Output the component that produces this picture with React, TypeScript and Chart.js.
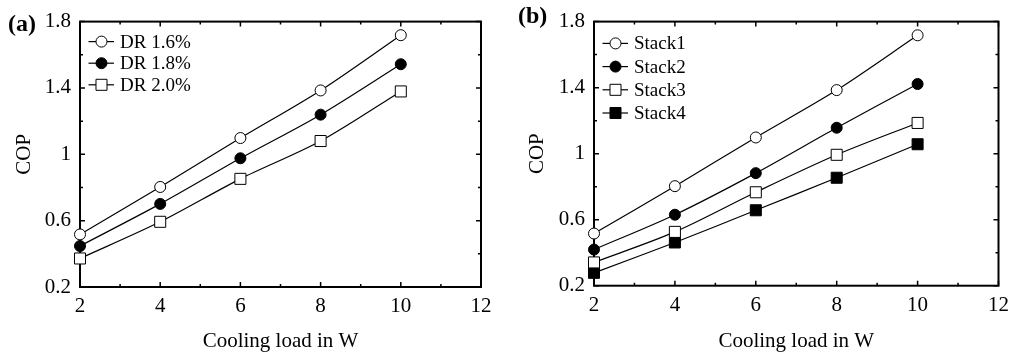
import React, { useEffect, useRef } from 'react';
import { Chart, registerables } from 'chart.js';

Chart.register(...registerables);

// ---- data ----
const xValues = [2, 4, 6, 8, 10];
const xTicks = [2, 4, 6, 8, 10, 12];
const xTickLabels = ['2', '4', '6', '8', '10', '12'];
const xMinorTicks = [3, 5, 7, 9, 11];
const yTicks = [0.2, 0.6, 1, 1.4, 1.8];
const yTickLabels = ['0.2', '0.6', '1', '1.4', '1.8'];
const yMinorTicks = [0.4, 0.8, 1.2, 1.6];

const dr16 = [0.517, 0.803, 1.098, 1.385, 1.718];
const dr18 = [0.447, 0.701, 0.976, 1.239, 1.543];
const dr20 = [0.372, 0.593, 0.852, 1.08, 1.379];

const stack1 = [0.516, 0.803, 1.098, 1.385, 1.717];
const stack2 = [0.419, 0.63, 0.882, 1.157, 1.422];
const stack3 = [0.341, 0.526, 0.766, 0.993, 1.186];
const stack4 = [0.278, 0.462, 0.657, 0.854, 1.057];

const labelsA = ['DR 1.6%', 'DR 1.8%', 'DR 2.0%'];
const labelsB = ['Stack1', 'Stack2', 'Stack3', 'Stack4'];

const xTitle = 'Cooling load in W';
const yTitle = 'COP';

type Marker = 'openCircle' | 'filledCircle' | 'openSquare' | 'filledSquare';
const markersA: Marker[] = ['openCircle', 'filledCircle', 'openSquare'];
const markersB: Marker[] = ['openCircle', 'filledCircle', 'openSquare', 'filledSquare'];

// ---- styling ----
const FONT = '"Liberation Serif", "Times New Roman", serif';
const CIRCLE_R = 5.5;
const SQUARE_R = 7.8; // Chart.js rect side = r * sqrt(2)

interface PanelSpec {
  tag: string;
  labels: string[];
  series: number[][];
  markers: Marker[];
  canvasLeft: number;
  width: number;
  plotLeft: number;
  rightPad: number;
  topPad: number;
  xAxisHeight: number;
  yTitlePad: number;
  legendFirst: number;
  legendGap: number;
  tagX: number;
  tagY: number;
}

const panelA: PanelSpec = {
  tag: '(a)',
  labels: labelsA,
  series: [dr16, dr18, dr20],
  markers: markersA,
  canvasLeft: 0,
  width: 500,
  plotLeft: 80,
  rightPad: 19,
  topPad: 21,
  xAxisHeight: 67,
  yTitlePad: 11.4,
  legendFirst: 20,
  legendGap: 21.6,
  tagX: 8,
  tagY: 25,
};

const panelB: PanelSpec = {
  tag: '(b)',
  labels: labelsB,
  series: [stack1, stack2, stack3, stack4],
  markers: markersB,
  canvasLeft: 508,
  width: 508,
  plotLeft: 86,
  rightPad: 11,
  topPad: 12.5,
  xAxisHeight: 68.3,
  yTitlePad: 16.4,
  legendFirst: 21.8,
  legendGap: 23.2,
  tagX: 10,
  tagY: 17,
};

function drawMarker(ctx: CanvasRenderingContext2D, m: Marker, x: number, y: number) {
  ctx.save();
  ctx.lineWidth = 1;
  ctx.strokeStyle = '#000';
  ctx.fillStyle = m === 'filledCircle' || m === 'filledSquare' ? '#000' : '#fff';
  ctx.beginPath();
  if (m === 'openCircle' || m === 'filledCircle') {
    ctx.arc(x, y, CIRCLE_R, 0, Math.PI * 2);
  } else {
    const s = SQUARE_R * Math.SQRT1_2;
    ctx.rect(x - s, y - s, 2 * s, 2 * s);
  }
  ctx.fill();
  ctx.stroke();
  ctx.restore();
}

function makeFramePlugin() {
  return {
    id: 'frameTicks',
    beforeDatasetsDraw(chart: any) {
      const { ctx, chartArea } = chart;
      const { left, right, top, bottom } = chartArea;
      const xs = chart.scales.x;
      const ys = chart.scales.y;
      ctx.save();
      ctx.strokeStyle = '#000';
      ctx.lineWidth = 1.5;
      const vTick = (px: number, len: number) => {
        ctx.beginPath();
        ctx.moveTo(px, bottom);
        ctx.lineTo(px, bottom - len);
        ctx.moveTo(px, top);
        ctx.lineTo(px, top + len);
        ctx.stroke();
      };
      const hTick = (py: number, len: number) => {
        ctx.beginPath();
        ctx.moveTo(left, py);
        ctx.lineTo(left + len, py);
        ctx.moveTo(right, py);
        ctx.lineTo(right - len, py);
        ctx.stroke();
      };
      xTicks.forEach((v) => vTick(xs.getPixelForValue(v), 5));
      xMinorTicks.forEach((v) => vTick(xs.getPixelForValue(v), 3));
      yTicks.forEach((v) => hTick(ys.getPixelForValue(v), 5));
      yMinorTicks.forEach((v) => hTick(ys.getPixelForValue(v), 3));
      ctx.lineWidth = 2;
      ctx.strokeRect(left, top, right - left, bottom - top);
      ctx.restore();
    },
  };
}

function makeLegendPlugin(spec: PanelSpec) {
  return {
    id: 'customLegend',
    afterDraw(chart: any) {
      const { ctx, chartArea } = chart;
      const { left, top } = chartArea;
      ctx.save();
      spec.labels.forEach((label, i) => {
        const y = top + spec.legendFirst + i * spec.legendGap;
        ctx.strokeStyle = '#000';
        ctx.lineWidth = 1.2;
        ctx.beginPath();
        ctx.moveTo(left + 8.5, y);
        ctx.lineTo(left + 34, y);
        ctx.stroke();
        drawMarker(ctx, spec.markers[i], left + 21.5, y);
        ctx.fillStyle = '#000';
        ctx.font = `19px ${FONT}`;
        ctx.textAlign = 'left';
        ctx.textBaseline = 'middle';
        ctx.fillText(label, left + 40, y + 1);
      });
      // panel tag
      ctx.fillStyle = '#000';
      ctx.font = `bold 24px ${FONT}`;
      ctx.textAlign = 'left';
      ctx.textBaseline = 'middle';
      ctx.fillText(spec.tag, spec.tagX, spec.tagY);
      ctx.restore();
    },
  };
}

function Panel({ spec }: { spec: PanelSpec }) {
  const ref = useRef<HTMLCanvasElement | null>(null);

  useEffect(() => {
    const canvas = ref.current;
    if (!canvas) return;
    const datasets = spec.series.map((vals, i) => {
      const m = spec.markers[i];
      const isCircle = m === 'openCircle' || m === 'filledCircle';
      const filled = m === 'filledCircle' || m === 'filledSquare';
      return {
        label: spec.labels[i],
        data: xValues.map((x, j) => ({ x, y: vals[j] })),
        borderColor: '#000',
        borderWidth: 1.2,
        tension: 0.3,
        fill: false,
        clip: false as const,
        pointStyle: isCircle ? 'circle' : 'rect',
        pointRadius: isCircle ? CIRCLE_R : SQUARE_R,
        pointBackgroundColor: filled ? '#000' : '#fff',
        pointBorderColor: '#000',
        pointBorderWidth: 1,
      };
    });

    const tickFont = { family: FONT, size: 21, lineHeight: 1.2 };

    const chart = new Chart(canvas, {
      type: 'line',
      data: { datasets: datasets as any },
      plugins: [makeFramePlugin(), makeLegendPlugin(spec)],
      options: {
        responsive: false,
        animation: false,
        layout: { padding: { left: 0, right: spec.rightPad, top: spec.topPad, bottom: 0 } },
        plugins: {
          legend: { display: false },
          tooltip: { enabled: false },
        },
        scales: {
          x: {
            type: 'linear',
            min: 2,
            max: 12,
            afterBuildTicks: (s: any) => {
              s.ticks = xTicks.map((v) => ({ value: v }));
            },
            afterFit: (s: any) => {
              s.height = spec.xAxisHeight;
            },
            grid: { display: false, drawTicks: false },
            border: { display: false },
            ticks: {
              color: '#000',
              font: tickFont,
              padding: 7,
              maxRotation: 0,
              autoSkip: false,
              callback: (_v: any, i: number) => xTickLabels[i],
            },
            title: {
              display: true,
              text: xTitle,
              color: '#000',
              font: { family: FONT, size: 21, lineHeight: 1.2 },
              padding: { top: 0, bottom: 0 },
            },
          },
          y: {
            type: 'linear',
            min: 0.2,
            max: 1.8,
            afterBuildTicks: (s: any) => {
              s.ticks = yTicks.map((v) => ({ value: v }));
            },
            afterFit: (s: any) => {
              s.width = spec.plotLeft;
            },
            grid: { display: false, drawTicks: false },
            border: { display: false },
            ticks: {
              color: '#000',
              font: tickFont,
              padding: 9,
              autoSkip: false,
              callback: (_v: any, i: number) => yTickLabels[i],
            },
            title: {
              display: true,
              text: yTitle,
              color: '#000',
              font: { family: FONT, size: 21, lineHeight: 1.2 },
              padding: { top: spec.yTitlePad, bottom: 0 },
            },
          },
        },
      } as any,
    });
    return () => chart.destroy();
  }, [spec]);

  return (
    <canvas
      ref={ref}
      width={spec.width}
      height={354}
      style={{ position: 'absolute', left: spec.canvasLeft, top: 0, width: spec.width, height: 354 }}
    />
  );
}

export default function App() {
  return (
    <div style={{ position: 'absolute', left: 0, top: 0, width: 1016, height: 354, background: '#fff', overflow: 'hidden' }}>
      <Panel spec={panelA} />
      <Panel spec={panelB} />
    </div>
  );
}
